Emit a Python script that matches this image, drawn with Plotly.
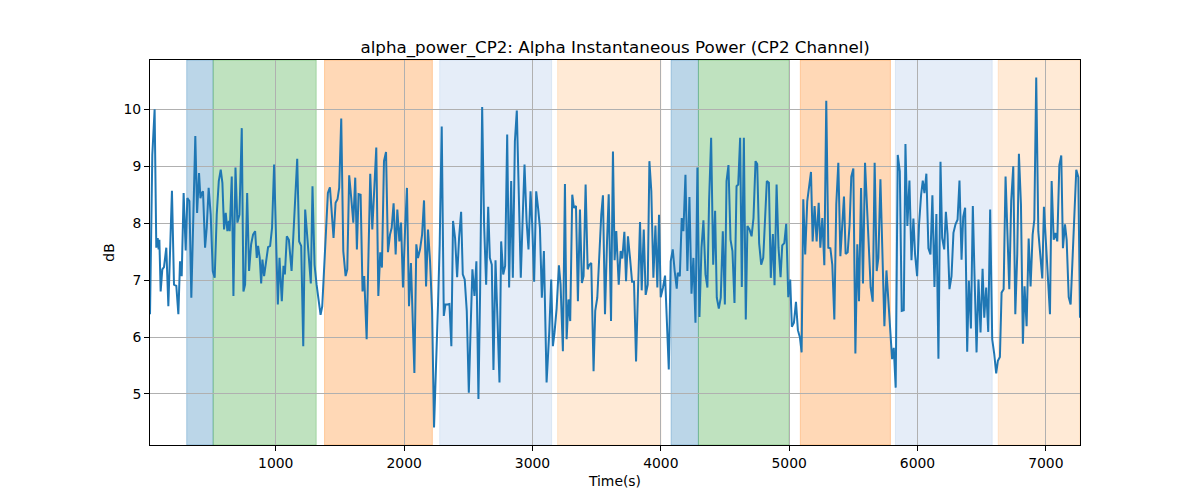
import plotly.graph_objects as go

# ---- data ----
time_s = [
    20, 38, 56, 69, 80, 87, 93, 103, 116, 129, 147, 163, 191, 207, 225, 241, 254, 267, 282, 298,
    311, 327, 342, 373, 387, 402, 413, 423, 433, 449, 462, 477, 493, 509, 524, 540, 556, 571, 584, 597,
    610, 623, 634, 641, 657, 670, 686, 701, 717, 735, 748, 761, 777, 792, 808, 823, 839, 852, 862, 875,
    886, 896, 909, 925, 940, 956, 971, 987, 1016, 1029, 1047, 1060, 1071, 1086, 1102, 1123, 1138, 1151, 1167, 1182,
    1198, 1214, 1229, 1242, 1258, 1273, 1286, 1302, 1318, 1336, 1349, 1362, 1375, 1393, 1406, 1422, 1437, 1450, 1466, 1481,
    1494, 1510, 1526, 1544, 1557, 1572, 1588, 1604, 1619, 1632, 1645, 1661, 1676, 1689, 1708, 1723, 1736, 1752, 1767, 1783,
    1799, 1814, 1827, 1843, 1859, 1874, 1890, 1903, 1918, 1934, 1947, 1963, 1976, 1991, 2007, 2022, 2038, 2053, 2080, 2095,
    2108, 2124, 2140, 2155, 2171, 2186, 2202, 2218, 2233, 2249, 2264, 2277, 2293, 2309, 2322, 2337, 2353, 2368, 2381, 2397,
    2413, 2428, 2444, 2457, 2472, 2488, 2504, 2519, 2532, 2548, 2563, 2579, 2592, 2608, 2623, 2639, 2655, 2668, 2683, 2696,
    2712, 2727, 2743, 2756, 2772, 2787, 2803, 2818, 2834, 2847, 2863, 2878, 2894, 2909, 2925, 2938, 2954, 2969, 2985, 2998,
    3013, 3029, 3045, 3058, 3073, 3089, 3110, 3131, 3146, 3159, 3172, 3188, 3206, 3219, 3237, 3253, 3266, 3281, 3294, 3310,
    3323, 3339, 3354, 3370, 3385, 3398, 3414, 3430, 3443, 3458, 3476, 3489, 3505, 3521, 3536, 3549, 3565, 3581, 3594, 3612,
    3627, 3640, 3653, 3672, 3687, 3700, 3716, 3729, 3744, 3760, 3776, 3791, 3807, 3822, 3838, 3851, 3867, 3882, 3898, 3911,
    3926, 3942, 3958, 3973, 3986, 3999, 4017, 4033, 4049, 4062, 4077, 4093, 4108, 4124, 4132, 4148, 4163, 4176, 4192, 4207,
    4223, 4239, 4254, 4270, 4285, 4301, 4317, 4332, 4348, 4363, 4376, 4392, 4408, 4423, 4436, 4452, 4467, 4483, 4499, 4512,
    4527, 4543, 4558, 4574, 4590, 4603, 4618, 4631, 4647, 4662, 4675, 4691, 4707, 4722, 4738, 4751, 4766, 4782, 4798, 4813,
    4826, 4842, 4857, 4873, 4886, 4902, 4917, 4933, 4946, 4962, 4977, 4993, 5008, 5021, 5037, 5053, 5068, 5084, 5097, 5110,
    5125, 5141, 5157, 5170, 5183, 5198, 5214, 5230, 5243, 5258, 5274, 5289, 5305, 5321, 5336, 5352, 5367, 5383, 5399, 5412,
    5427, 5440, 5456, 5471, 5484, 5500, 5516, 5531, 5544, 5560, 5575, 5591, 5607, 5620, 5635, 5651, 5666, 5682, 5695, 5711,
    5726, 5742, 5758, 5773, 5789, 5802, 5815, 5830, 5846, 5862, 5877, 5893, 5906, 5921, 5937, 5953, 5968, 5981, 5997, 6012,
    6028, 6041, 6054, 6069, 6085, 6101, 6116, 6132, 6147, 6163, 6179, 6192, 6208, 6221, 6234, 6249, 6265, 6280, 6296, 6312,
    6327, 6343, 6356, 6371, 6387, 6400, 6416, 6431, 6444, 6460, 6475, 6491, 6507, 6520, 6535, 6551, 6566, 6582, 6598, 6613,
    6626, 6642, 6655, 6671, 6686, 6702, 6715, 6730, 6746, 6762, 6777, 6790, 6806, 6821, 6834, 6850, 6866, 6881, 6897, 6910,
    6925, 6941, 6957, 6972, 6985, 7001, 7016, 7032, 7045, 7061, 7074, 7089, 7105, 7120, 7133, 7149, 7162, 7178, 7193, 7206,
    7222, 7237, 7253, 7266,
]

alpha_db = [
    6.40, 9.20, 10.00, 7.57, 7.74, 7.54, 7.71, 6.80, 7.19, 7.23, 7.57, 6.54, 8.57, 6.92, 6.90, 6.40, 7.33, 7.07, 8.53, 7.52,
    8.44, 8.39, 6.69, 9.53, 8.18, 8.88, 8.44, 8.53, 8.56, 7.57, 7.92, 8.62, 8.15, 7.16, 7.04, 8.15, 8.74, 8.94, 8.71, 7.89,
    8.18, 7.86, 8.04, 7.86, 8.82, 6.72, 8.98, 8.01, 8.15, 9.67, 6.80, 6.92, 8.53, 7.16, 7.63, 7.80, 7.86, 7.39, 7.60, 7.39,
    6.94, 7.36, 7.07, 7.39, 7.58, 7.60, 7.92, 9.03, 6.57, 7.39, 6.63, 7.25, 7.10, 7.77, 7.71, 7.16, 7.86, 8.65, 9.13, 7.68,
    7.60, 5.84, 8.24, 7.86, 7.33, 6.94, 8.65, 7.27, 6.92, 6.57, 6.39, 6.54, 7.16, 8.04, 8.53, 8.63, 8.09, 7.74, 8.36, 8.42,
    8.62, 9.84, 7.51, 7.07, 7.19, 8.84, 8.44, 8.01, 8.80, 7.54, 8.51, 8.50, 6.80, 7.07, 5.96, 7.68, 8.87, 7.89, 8.56, 9.33,
    6.72, 7.49, 7.22, 9.09, 9.25, 7.49, 7.80, 7.92, 8.35, 7.45, 8.24, 7.68, 8.01, 6.87, 7.86, 8.62, 6.54, 7.30, 5.37, 7.63,
    7.39, 7.54, 7.80, 8.40, 6.89, 7.89, 7.33, 6.46, 4.41, 5.40, 6.57, 7.63, 9.70, 6.37, 6.57, 6.57, 6.58, 5.84, 8.04, 7.74,
    7.05, 7.74, 8.20, 7.10, 7.01, 6.46, 5.02, 6.22, 7.19, 6.72, 7.33, 4.91, 6.80, 10.04, 7.98, 6.92, 8.29, 7.39, 7.27, 5.42,
    7.35, 6.34, 5.20, 7.68, 7.10, 7.25, 9.56, 6.87, 8.74, 7.04, 9.44, 9.98, 8.56, 7.04, 8.18, 9.03, 8.04, 7.54, 8.56, 7.98,
    6.97, 8.56, 8.24, 7.92, 6.69, 7.51, 5.20, 6.10, 7.01, 5.84, 6.08, 6.50, 7.26, 6.92, 5.75, 8.69, 5.96, 6.66, 6.28, 8.50,
    8.27, 8.30, 6.63, 8.24, 6.95, 7.07, 8.68, 7.19, 7.27, 7.30, 5.40, 6.46, 6.69, 7.45, 8.15, 8.49, 6.40, 7.68, 8.51, 6.28,
    9.26, 7.35, 7.86, 6.92, 7.51, 7.38, 7.85, 6.98, 7.77, 7.39, 6.97, 6.97, 5.57, 6.80, 8.02, 6.82, 7.89, 6.74, 6.92, 9.09,
    8.56, 7.04, 7.96, 6.87, 8.15, 6.70, 6.87, 7.08, 6.05, 5.43, 7.33, 7.54, 7.16, 6.85, 7.13, 7.07, 8.09, 7.86, 8.85, 7.16,
    8.46, 6.76, 7.39, 6.25, 8.98, 6.35, 7.57, 8.05, 7.10, 6.87, 8.39, 9.50, 7.27, 8.22, 6.69, 6.50, 6.69, 7.86, 6.57, 8.74,
    9.02, 7.71, 7.51, 6.60, 8.65, 8.68, 9.50, 6.88, 9.50, 6.31, 7.95, 7.89, 7.77, 8.09, 9.09, 9.04, 7.65, 7.27, 7.39, 8.09,
    8.74, 8.71, 7.04, 7.81, 6.91, 8.68, 7.57, 7.05, 7.61, 7.65, 7.99, 6.70, 7.01, 6.18, 6.25, 6.62, 6.12, 5.99, 5.73, 8.42,
    7.45, 8.39, 8.74, 8.90, 7.68, 8.30, 7.68, 8.36, 7.57, 8.09, 7.26, 10.15, 7.57, 7.56, 7.27, 6.31, 8.33, 9.06, 7.42, 7.98,
    8.47, 7.46, 7.49, 7.98, 8.82, 8.96, 5.71, 7.63, 6.63, 8.62, 6.94, 9.06, 8.30, 7.68, 6.87, 6.62, 9.06, 7.16, 7.39, 8.77,
    7.39, 6.19, 7.17, 6.69, 6.05, 5.61, 5.81, 5.11, 9.20, 8.91, 6.46, 6.47, 9.39, 7.95, 8.75, 7.35, 8.08, 7.45, 7.07, 7.98,
    8.50, 8.75, 8.53, 8.87, 7.56, 7.45, 8.49, 6.88, 8.16, 5.62, 9.08, 7.74, 7.54, 8.20, 7.80, 6.84, 7.07, 7.83, 7.98, 8.06,
    8.75, 7.36, 8.11, 8.27, 5.74, 6.99, 6.15, 8.30, 7.10, 5.73, 7.01, 6.08, 7.20, 6.34, 6.87, 6.09, 8.24, 5.96, 5.70, 5.36,
    5.58, 5.65, 6.78, 6.84, 8.82, 7.63, 6.84, 8.39, 9.00, 6.40, 7.45, 9.22, 8.33, 5.88, 6.89, 6.19, 7.73, 6.89, 7.80, 8.06,
    10.56, 7.86, 7.42, 7.03, 8.29, 7.63, 7.04, 6.40, 8.74, 7.71, 7.83, 7.68, 9.02, 9.19, 7.56, 7.98, 7.71, 6.70, 6.57, 7.27,
    8.12, 8.94, 8.81, 6.34,
]

span_start = [306, 512, 1380, 2277, 3196, 4080, 4293, 5087, 5828, 6629]
span_end = [512, 1315, 2220, 3149, 4000, 4293, 5000, 5789, 6582, 7266]
span_color = [
    "rgba(31,119,180,0.3)", "rgba(44,160,44,0.3)", "rgba(255,127,14,0.3)",
    "rgba(174,199,232,0.32)", "rgba(255,187,120,0.3)",
    "rgba(31,119,180,0.3)", "rgba(44,160,44,0.3)", "rgba(255,127,14,0.3)",
    "rgba(174,199,232,0.32)", "rgba(255,187,120,0.3)",
]

x_ticks = [1000, 2000, 3000, 4000, 5000, 6000, 7000]
y_ticks = [5, 6, 7, 8, 9, 10]

title_text = "alpha_power_CP2: Alpha Instantaneous Power (CP2 Channel)"

# ---- figure ----
fig = go.Figure()

for s, e, c in zip(span_start, span_end, span_color):
    fig.add_vrect(x0=s, x1=e, fillcolor=c, line=dict(color=c, width=1), layer="below")

fig.add_trace(go.Scatter(
    x=time_s, y=alpha_db, mode="lines",
    line=dict(color="#1f77b4", width=2),
    showlegend=False, hoverinfo="x+y",
))

ymin, ymax = min(alpha_db), max(alpha_db)
pad = 0.05 * (ymax - ymin)

font_family = "DejaVu Sans, Arial, sans-serif"

fig.update_layout(
    width=1200, height=500,
    margin=dict(l=142, r=128, t=52, b=63),
    paper_bgcolor="white", plot_bgcolor="white",
    font=dict(family=font_family, size=13.9, color="black"),
    title=dict(
        text=title_text, x=0.506, xanchor="center",
        y=0.91, yref="container", yanchor="bottom",
        font=dict(size=16.7, color="black"),
    ),
    showlegend=False,
)

fig.update_xaxes(
    range=[min(time_s), max(time_s)],
    tickmode="array", tickvals=x_ticks, ticktext=[str(v) for v in x_ticks],
    showgrid=True, gridcolor="#b0b0b0", gridwidth=0.8,
    showline=True, linecolor="black", linewidth=1, mirror=True,
    ticks="outside", ticklen=5, tickwidth=1, tickcolor="black",
    zeroline=False,
    title=dict(text="Time(s)", standoff=6, font=dict(size=13.9)),
)
fig.update_yaxes(
    range=[ymin - pad, ymax + pad],
    tickmode="array", tickvals=y_ticks, ticktext=[str(v) for v in y_ticks],
    showgrid=True, gridcolor="#b0b0b0", gridwidth=0.8,
    showline=True, linecolor="black", linewidth=1, mirror=True,
    ticks="outside", ticklen=5, tickwidth=1, tickcolor="black",
    zeroline=False,
    title=dict(text="dB", standoff=5, font=dict(size=13.9)),
)

fig.write_html("out.html")
